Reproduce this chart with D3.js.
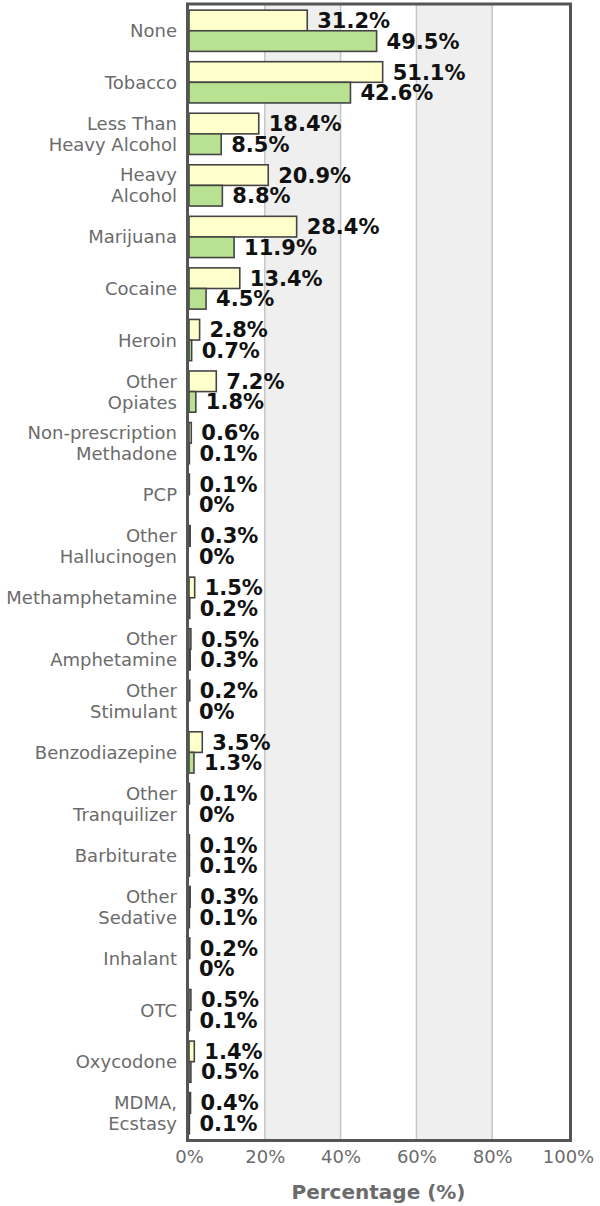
<!DOCTYPE html>
<html>
<head>
<meta charset="utf-8">
<script src="https://cdn.jsdelivr.net/npm/d3@7"></script>
<style>
  body { margin: 0; background: #fff; }
  svg { display: block; font-family: "DejaVu Sans", Verdana, sans-serif; }
</style>
</head>
<body>
<div class="canva"></div>
<script>
// categories (line breaks as in the picture)
const categories = [
  "None", "Tobacco", "Less Than\nHeavy Alcohol", "Heavy\nAlcohol", "Marijuana",
  "Cocaine", "Heroin", "Other\nOpiates", "Non-prescription\nMethadone", "PCP",
  "Other\nHallucinogen", "Methamphetamine", "Other\nAmphetamine", "Other\nStimulant",
  "Benzodiazepine", "Other\nTranquilizer", "Barbiturate", "Other\nSedative",
  "Inhalant", "OTC", "Oxycodone", "MDMA,\nEcstasy"
]
// first (yellow) series
const seriesA = [31.2, 51.1, 18.4, 20.9, 28.4, 13.4, 2.8, 7.2, 0.6, 0.1, 0.3, 1.5, 0.5, 0.2, 3.5, 0.1, 0.1, 0.3, 0.2, 0.5, 1.4, 0.4]
// second (green) series
const seriesB = [49.5, 42.6, 8.5, 8.8, 11.9, 4.5, 0.7, 1.8, 0.1, 0, 0, 0.2, 0.3, 0, 1.3, 0, 0.1, 0.1, 0, 0.1, 0.5, 0.1]
const tickValues = [0, 20, 40, 60, 80, 100]
const axisTitle = "Percentage (%)"

const width = 600
const height = 1206
const colors = ["#ffffcc", "#b8e291"]

const svg = d3.select(".canva").append("svg").attr("width", width).attr("height", height)

const x = d3.scaleLinear().domain([0, 100]).range([189, 568])
const y = d3.scaleBand().domain(categories).range([5, 1139]).paddingInner(0.2).paddingOuter(0.1)
const ySub = d3.scaleBand().domain([0, 1]).range([0, y.bandwidth()])

// alternating background bands
svg.append("g")
  .selectAll("rect")
  .data([20, 60])
  .enter()
  .append("rect")
  .attr("x", d => x(d))
  .attr("y", 4)
  .attr("width", d => x(d + 20) - x(d))
  .attr("height", 1136)
  .attr("fill", "#efefef")

// grid lines
svg.append("g")
  .selectAll("line")
  .data([20, 40, 60, 80])
  .enter()
  .append("line")
  .attr("x1", d => x(d)).attr("x2", d => x(d))
  .attr("y1", 4).attr("y2", 1140)
  .attr("stroke", "#c6c6c6")
  .attr("stroke-width", 1.5)

const rows = categories.map((c, i) => ({ cat: c, values: [seriesA[i], seriesB[i]] }))

const groups = svg.append("g")
  .selectAll("g")
  .data(rows)
  .enter()
  .append("g")
  .attr("transform", d => `translate(0,${y(d.cat)})`)

groups.selectAll("rect")
  .data(d => d.values.map((v, k) => ({ v, k })))
  .enter()
  .append("rect")
  .attr("x", x(0))
  .attr("y", d => ySub(d.k))
  .attr("width", d => x(d.v) - x(0))
  .attr("height", ySub.bandwidth())
  .attr("fill", d => colors[d.k])
  .attr("stroke", "#444")
  .attr("stroke-width", 1.6)

groups.selectAll("text.val")
  .data(d => d.values.map((v, k) => ({ v, k })))
  .enter()
  .append("text")
  .attr("class", "val")
  .attr("x", d => x(d.v) + 10)
  .attr("y", d => ySub(d.k) + ySub.bandwidth() / 2 + 7.5)
  .attr("font-size", 21)
  .attr("font-weight", "bold")
  .attr("fill", "#111")
  .text(d => (d.v === 0 ? "0" : d.v.toFixed(1)) + "%")

// category labels
groups.append("text")
  .attr("text-anchor", "end")
  .attr("font-size", 18)
  .attr("fill", "#6b6b6b")
  .each(function (d) {
    const lines = d.cat.split("\n")
    const mid = y.bandwidth() / 2 + 6.5
    const t = d3.select(this)
    lines.forEach((line, j) => {
      t.append("tspan")
        .attr("x", 177)
        .attr("y", mid + (j - (lines.length - 1) / 2) * 21)
        .text(line)
    })
  })

// frame
svg.append("rect")
  .attr("x", 187.5)
  .attr("y", 4)
  .attr("width", 570.5 - 187.5)
  .attr("height", 1140.5 - 4)
  .attr("fill", "none")
  .attr("stroke", "#555")
  .attr("stroke-width", 3)

// x axis labels
const axis = svg.append("g")
  .attr("transform", "translate(0,1146)")
  .call(d3.axisBottom(x).tickValues(tickValues).tickSize(0).tickPadding(4).tickFormat(d => d + "%"))
axis.select(".domain").remove()
axis.selectAll("text")
  .attr("font-size", 18)
  .attr("font-family", "DejaVu Sans, Verdana, sans-serif")
  .attr("fill", "#6b6b6b")

svg.append("text")
  .attr("x", (x(0) + x(100)) / 2)
  .attr("y", 1199)
  .attr("text-anchor", "middle")
  .attr("font-size", 20)
  .attr("font-weight", "bold")
  .attr("fill", "#6b6b6b")
  .text(axisTitle)
</script>
</body>
</html>
